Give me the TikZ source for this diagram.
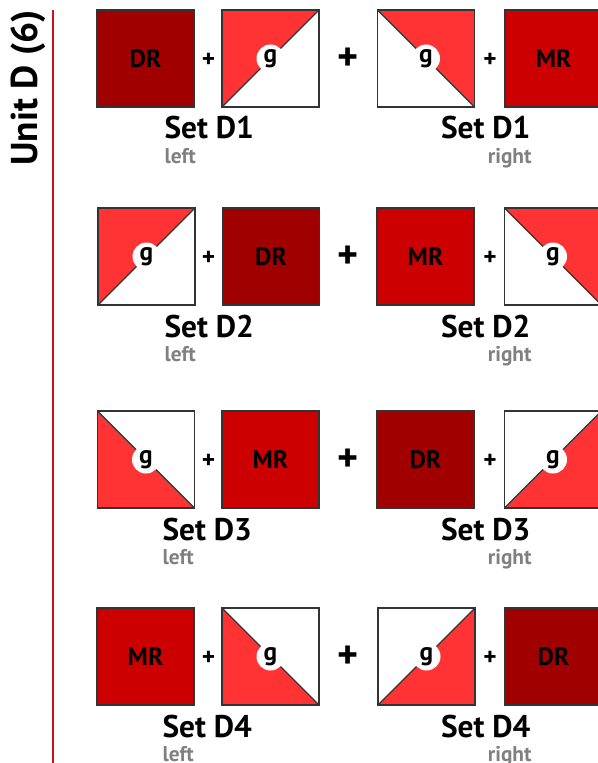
\documentclass[tikz,border=0pt]{standalone}
\usepackage{fontspec}
\setmainfont{PT Sans}
\definecolor{darkred}{RGB}{160,0,0}
\definecolor{midred}{RGB}{204,0,0}
\definecolor{lightred}{RGB}{255,51,51}
\definecolor{edgegray}{RGB}{51,51,51}
\definecolor{labelgray}{RGB}{128,128,128}
\definecolor{rulered}{RGB}{210,16,26}

\tikzset{every picture/.style={line width=0.75pt}}
\tikzset{
  tile/.style={draw=edgegray, line width=0.9pt, minimum size=72.75pt, inner sep=0pt, outer sep=0pt, font=\fontsize{19}{22}\selectfont\bfseries},
  dr tile/.style={tile, fill=darkred},
  mr tile/.style={tile, fill=midred},
  half tile/.style={tile, fill=white},
  red half/.style={fill=lightred},
  diag/.style={draw=edgegray, line width=0.9pt},
  g dot/.style={circle, fill=white, inner sep=0pt, minimum size=21pt, font=\fontsize{19}{22}\selectfont\bfseries},
  small plus/.style={inner sep=0pt, font=\fontsize{19}{22}\selectfont\bfseries},
  big plus/.style={inner sep=0pt, font=\fontsize{30}{34}\selectfont\bfseries},
  set label/.style={inner sep=0pt, font=\fontsize{23.5}{28}\selectfont\bfseries},
  side label/.style={inner sep=0pt, text=labelgray, font=\fontsize{16}{19}\selectfont\bfseries},
}

\begin{document}
\begin{tikzpicture}[x=0.75pt,y=0.75pt,yscale=-1,xscale=1]
\useasboundingbox (0,0) rectangle (597,763);

%Shape: Line [id:unit rule]
\draw [color=rulered, line width=1.5pt] (53,10) -- (53,763);
% Text Node
\node (unit) at (28,88) [rotate=90, inner sep=0pt, font=\fontsize{28}{32}\selectfont\bfseries] {Unit D (6)};

%%%%%%%%%% Set D1
%Shape: Square [id:d1 left a]
\node (d1la) at (145.5,58.5) [dr tile] {DR};
%Shape: Square [id:d1 left b]
\node (d1lb) at (270.5,58.5) [half tile] {};
\fill [red half] (d1lb.north west) -- (d1lb.north east) -- (d1lb.south west) -- cycle;
\draw [diag] (d1lb.south west) -- (d1lb.north east);
\draw [diag] (d1lb.north west) rectangle (d1lb.south east);
\node (g1l) at (d1lb.center) [g dot] {g};
%Shape: Square [id:d1 right a]
\node (d1ra) at (426,58.5) [half tile] {};
\fill [red half] (d1ra.north west) -- (d1ra.north east) -- (d1ra.south east) -- cycle;
\draw [diag] (d1ra.north west) -- (d1ra.south east);
\draw [diag] (d1ra.north west) rectangle (d1ra.south east);
\node (g1r) at (d1ra.center) [g dot] {g};
%Shape: Square [id:d1 right b]
\node (d1rb) at (553.5,58.5) [mr tile] {MR};
% Text Node
\node (p1l) at (208.5,60.5) [small plus] {+};
\node (p1m) at (348.5,59) [big plus] {+};
\node (p1r) at (490,60.5) [small plus] {+};
% Text Node
\node (s1l) at (164,139) [set label, anchor=base west] {Set D1};
\node (s1r) at (531,139) [set label, anchor=base east] {Set D1};
\node (l1l) at (164,163) [side label, anchor=base west] {left};
\node (l1r) at (532,163) [side label, anchor=base east] {right};

%%%%%%%%%% Set D2
%Shape: Square [id:d2 left a]
\node (d2la) at (146.5,256.5) [half tile] {};
\fill [red half] (d2la.north west) -- (d2la.north east) -- (d2la.south west) -- cycle;
\draw [diag] (d2la.south west) -- (d2la.north east);
\draw [diag] (d2la.north west) rectangle (d2la.south east);
\node (g2l) at (d2la.center) [g dot] {g};
%Shape: Square [id:d2 left b]
\node (d2lb) at (271,256.5) [dr tile] {DR};
%Shape: Square [id:d2 right a]
\node (d2ra) at (425.5,256.5) [mr tile] {MR};
%Shape: Square [id:d2 right b]
\node (d2rb) at (553,256.5) [half tile] {};
\fill [red half] (d2rb.north west) -- (d2rb.north east) -- (d2rb.south east) -- cycle;
\draw [diag] (d2rb.north west) -- (d2rb.south east);
\draw [diag] (d2rb.north west) rectangle (d2rb.south east);
\node (g2r) at (d2rb.center) [g dot] {g};
% Text Node
\node (p2l) at (208.5,258.5) [small plus] {+};
\node (p2m) at (348.5,257) [big plus] {+};
\node (p2r) at (490,258.5) [small plus] {+};
% Text Node
\node (s2l) at (164,337) [set label, anchor=base west] {Set D2};
\node (s2r) at (531,337) [set label, anchor=base east] {Set D2};
\node (l2l) at (164,361) [side label, anchor=base west] {left};
\node (l2r) at (532,361) [side label, anchor=base east] {right};

%%%%%%%%%% Set D3
%Shape: Square [id:d3 left a]
\node (d3la) at (146,459.5) [half tile] {};
\fill [red half] (d3la.north west) -- (d3la.south west) -- (d3la.south east) -- cycle;
\draw [diag] (d3la.north west) -- (d3la.south east);
\draw [diag] (d3la.north west) rectangle (d3la.south east);
\node (g3l) at (d3la.center) [g dot] {g};
%Shape: Square [id:d3 left b]
\node (d3lb) at (270.5,459.5) [mr tile] {MR};
%Shape: Square [id:d3 right a]
\node (d3ra) at (425.5,459.5) [dr tile] {DR};
%Shape: Square [id:d3 right b]
\node (d3rb) at (553,459.5) [half tile] {};
\fill [red half] (d3rb.south west) -- (d3rb.south east) -- (d3rb.north east) -- cycle;
\draw [diag] (d3rb.south west) -- (d3rb.north east);
\draw [diag] (d3rb.north west) rectangle (d3rb.south east);
\node (g3r) at (d3rb.center) [g dot] {g};
% Text Node
\node (p3l) at (208.5,461.5) [small plus] {+};
\node (p3m) at (348.5,460) [big plus] {+};
\node (p3r) at (490,461.5) [small plus] {+};
% Text Node
\node (s3l) at (162,540) [set label, anchor=base west] {Set D3};
\node (s3r) at (531,540) [set label, anchor=base east] {Set D3};
\node (l3l) at (162,564) [side label, anchor=base west] {left};
\node (l3r) at (532,564) [side label, anchor=base east] {right};

%%%%%%%%%% Set D4
%Shape: Square [id:d4 left a]
\node (d4la) at (145.5,656.5) [mr tile] {MR};
%Shape: Square [id:d4 left b]
\node (d4lb) at (270.5,656.5) [half tile] {};
\fill [red half] (d4lb.north west) -- (d4lb.south west) -- (d4lb.south east) -- cycle;
\draw [diag] (d4lb.north west) -- (d4lb.south east);
\draw [diag] (d4lb.north west) rectangle (d4lb.south east);
\node (g4l) at (d4lb.center) [g dot] {g};
%Shape: Square [id:d4 right a]
\node (d4ra) at (426.5,656.5) [half tile] {};
\fill [red half] (d4ra.south west) -- (d4ra.south east) -- (d4ra.north east) -- cycle;
\draw [diag] (d4ra.south west) -- (d4ra.north east);
\draw [diag] (d4ra.north west) rectangle (d4ra.south east);
\node (g4r) at (d4ra.center) [g dot] {g};
%Shape: Square [id:d4 right b]
\node (d4rb) at (553.5,656.5) [dr tile] {DR};
% Text Node
\node (p4l) at (208.5,658.5) [small plus] {+};
\node (p4m) at (348.5,657) [big plus] {+};
\node (p4r) at (490,658.5) [small plus] {+};
% Text Node
\node (s4l) at (162,737) [set label, anchor=base west] {Set D4};
\node (s4r) at (531,737) [set label, anchor=base east] {Set D4};
\node (l4l) at (162,761) [side label, anchor=base west] {left};
\node (l4r) at (532,761) [side label, anchor=base east] {right};

\end{tikzpicture}
\end{document}
